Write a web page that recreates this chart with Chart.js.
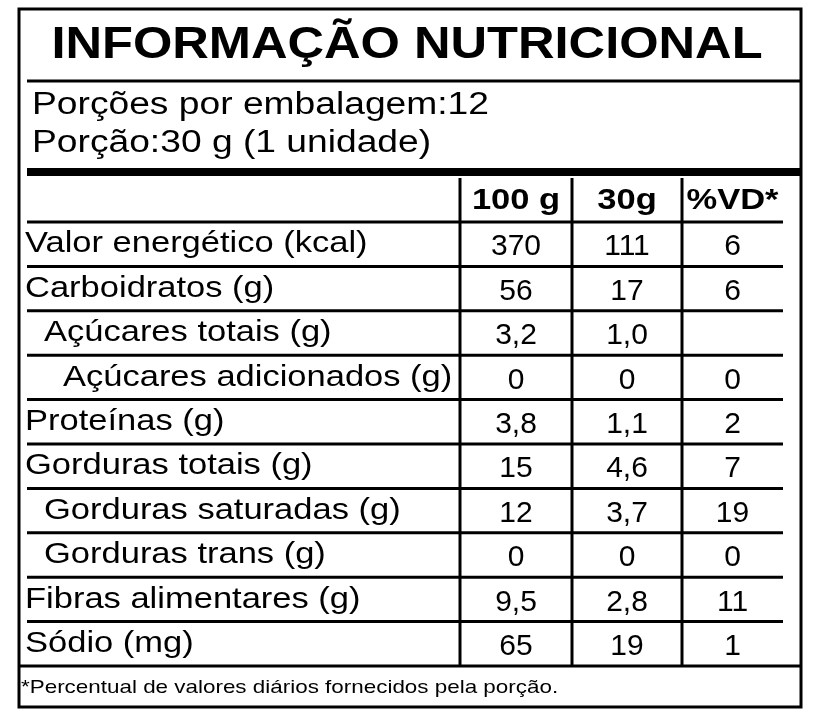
<!DOCTYPE html>
<html>
<head>
<meta charset="utf-8">
<script src="https://cdn.jsdelivr.net/npm/chart.js@4/dist/chart.umd.min.js"></script>
<style>
  html, body { margin: 0; padding: 0; background: #fff; }
  #wrap { width: 813px; height: 719px; }
</style>
</head>
<body>
<div id="wrap"><canvas id="label"></canvas></div>
<script>
const title = 'INFORMAÇÃO NUTRICIONAL';
const servingLines = ['Porções por embalagem:12', 'Porção:30 g (1 unidade)'];
const headers = ['100 g', '30g', '%VD*'];
const nutrients = [
  'Valor energético (kcal)', 'Carboidratos (g)', 'Açúcares totais (g)',
  'Açúcares adicionados (g)', 'Proteínas (g)', 'Gorduras totais (g)',
  'Gorduras saturadas (g)', 'Gorduras trans (g)', 'Fibras alimentares (g)', 'Sódio (mg)'
];
const indentLevel = [0, 0, 1, 2, 0, 0, 1, 1, 0, 0];
const per100g = ['370', '56', '3,2', '0', '3,8', '15', '12', '0', '9,5', '65'];
const perPortion = ['111', '17', '1,0', '0', '1,1', '4,6', '3,7', '0', '2,8', '19'];
const dailyValue = ['6', '6', '', '0', '2', '7', '19', '0', '11', '1'];
const footnote = '*Percentual de valores diários fornecidos pela porção.';

// grid layout in the page's pixel space, mapped through the chart scales
const colEdges = [27, 460, 572, 682, 783];
const rowTop = 222, rowH = 44.4;
const FONT = '"Liberation Sans", Arial, sans-serif';

const tablePlugin = {
  id: 'table',
  afterDraw(chart) {
    const { ctx, scales: { x, y } } = chart;
    const px = v => x.getPixelForValue(v);
    const py = v => y.getPixelForValue(v);
    const line = (x1, y1, x2, y2, w) => {
      ctx.lineWidth = w;
      ctx.beginPath();
      ctx.moveTo(px(x1), py(y1));
      ctx.lineTo(px(x2), py(y2));
      ctx.stroke();
    };
    // text with a horizontal stretch, the label uses a wide Arial
    const text = (s, tx, ty, font, align, sx = 1) => {
      ctx.save();
      ctx.font = font;
      ctx.textAlign = align;
      ctx.textBaseline = 'middle';
      ctx.translate(px(tx), py(ty));
      ctx.scale(sx, 1);
      ctx.fillText(s, 0, 0);
      ctx.restore();
    };
    ctx.save();
    ctx.strokeStyle = '#000';
    ctx.fillStyle = '#000';

    ctx.lineWidth = 3;
    ctx.strokeRect(px(19), py(9), px(801) - px(19), py(707) - py(9));

    text(title, 407, 46, 'bold 44px ' + FONT, 'center', 1.15);
    line(27, 81, 801, 81, 3);
    servingLines.forEach((s, i) => text(s, 32, 105 + i * 38, '31px ' + FONT, 'left', 1.2));
    line(27, 172, 801, 172, 8);

    headers.forEach((h, i) => text(h, (colEdges[i + 1] + colEdges[i + 2]) / 2, 201, 'bold 30px ' + FONT, 'center', 1.15));
    line(27, rowTop, 783, rowTop, 3);

    nutrients.forEach((n, i) => {
      const cy = rowTop + rowH * (i + 0.5);
      text(n, 25 + indentLevel[i] * 19, cy, '30px ' + FONT, 'left', 1.15);
      [per100g[i], perPortion[i], dailyValue[i]].forEach((v, j) => {
        text(v, (colEdges[j + 1] + colEdges[j + 2]) / 2, cy + 3, '30px ' + FONT, 'center', 1.0);
      });
      if (i < nutrients.length - 1) line(27, rowTop + rowH * (i + 1), 783, rowTop + rowH * (i + 1), 3);
    });
    const bottom = rowTop + rowH * nutrients.length;
    for (let j = 1; j <= 3; j++) line(colEdges[j], 178, colEdges[j], bottom, 3);
    line(19, bottom, 801, bottom, 3);
    text(footnote, 21, 688, '19px ' + FONT, 'left', 1.18);
    ctx.restore();
  }
};

new Chart(document.getElementById('label'), {
  type: 'scatter',
  data: { datasets: [{ data: [] }] },
  options: {
    responsive: true,
    maintainAspectRatio: false,
    animation: false,
    layout: { padding: 0 },
    plugins: { legend: { display: false }, tooltip: { enabled: false } },
    scales: {
      x: { type: 'linear', min: 0, max: 813, display: false },
      y: { type: 'linear', min: 0, max: 719, reverse: true, display: false }
    }
  },
  plugins: [tablePlugin]
});
</script>
</body>
</html>
